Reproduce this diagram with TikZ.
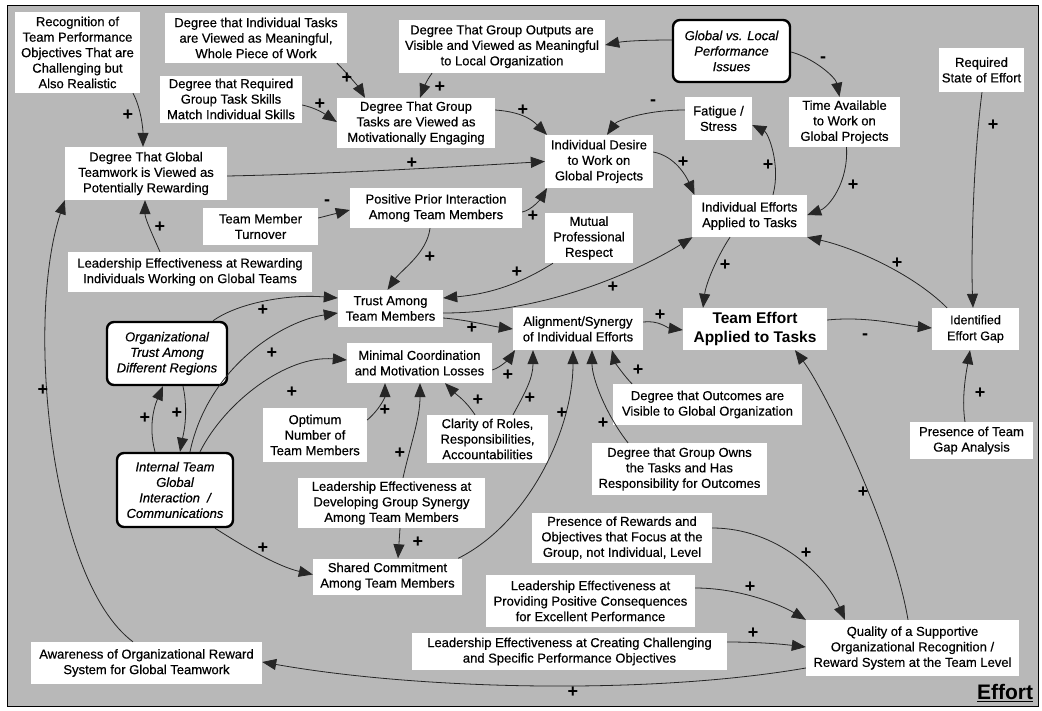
\documentclass[tikz,border=0pt]{standalone}
\usepackage{fontspec}
\setmainfont{Liberation Sans}
\newfontfamily\heavy{Liberation Sans}[FakeBold=0.45]
\usetikzlibrary{arrows.meta,calc}
\definecolor{paper}{RGB}{184,184,184}
\begin{document}
\begin{tikzpicture}[x=1pt,y=-1pt,
  box/.style={fill=white, align=center, inner sep=0pt, font=\heavy\fontsize{13}{15.5}\selectfont},
  keybox/.style={box, draw=black, line width=2.4pt, rounded corners=7pt, font=\heavy\itshape\fontsize{13}{15.5}\selectfont},
  arr/.style={draw=black!85, line width=0.8pt, -{Triangle[length=14pt,width=11pt]}},
  pl/.style={font=\bfseries\fontsize{18}{18}\selectfont, inner sep=0pt},
  ]
\useasboundingbox (0,0) rectangle (1042,710);
\fill[white] (0,0) rectangle (1042,710);
\filldraw[fill=paper, draw=black, line width=1pt] (7,5) rectangle (1038,706);

% ---- variables ----
\node[box, minimum width=125pt, minimum height=81pt] (rec) at (77.5,52.5) {Recognition of\\Team Performance\\Objectives That are\\Challenging but\\Also Realistic};
\node[box, minimum width=182pt, minimum height=50pt] (itask) at (256,38) {Degree that Individual Tasks\\are Viewed as Meaningful,\\Whole Piece of Work};
\node[box, minimum width=142pt, minimum height=47pt] (rskill) at (231,99) {Degree that Required\\Group Task Skills\\Match Individual Skills};
\node[box, minimum width=162pt, minimum height=53pt] (gtw) at (146,173.5) {Degree That Global\\Teamwork is Viewed as\\Potentially Rewarding};
\node[box, minimum width=206pt, minimum height=53pt] (gout) at (502,46.5) {Degree That Group Outputs are\\Visible and Viewed as Meaningful\\to Local Organization};
\node[keybox, minimum width=117pt, minimum height=62pt] (glv) at (731.5,51) {Global vs. Local\\Performance\\Issues};
\node[box, minimum width=158pt, minimum height=50pt] (gtask) at (416,123) {Degree That Group\\Tasks are Viewed as\\Motivationally Engaging};
\node[box, minimum width=67pt, minimum height=43pt] (fatigue) at (718.5,118.5) {Fatigue /\\Stress};
\node[box, minimum width=111pt, minimum height=50pt] (time) at (844.5,122) {Time Available\\to Work on\\Global Projects};
\node[box, minimum width=85pt, minimum height=44pt] (rstate) at (981.5,70) {Required\\State of Effort};
\node[box, minimum width=108pt, minimum height=53pt] (desire) at (599,161.5) {Individual Desire\\to Work on\\Global Projects};
\node[box, minimum width=172pt, minimum height=40pt] (prior) at (436,208) {Positive Prior Interaction\\Among Team Members};
\node[box, minimum width=115pt, minimum height=37pt] (turnover) at (260.5,226.5) {Team Member\\Turnover};
\node[box, minimum width=88pt, minimum height=50pt] (mutual) at (589,238) {Mutual\\Professional\\Respect};
\node[box, minimum width=115pt, minimum height=42pt] (ieff) at (749.5,216) {Individual Efforts\\Applied to Tasks};
\node[box, minimum width=244pt, minimum height=40pt] (lrew) at (190,272) {Leadership Effectiveness at Rewarding\\Individuals Working on Global Teams};
\node[box, minimum width=105pt, minimum height=37pt] (trust) at (390.5,308.5) {Trust Among\\Team Members};
\node[box, minimum width=130pt, minimum height=42pt] (align) at (578,329) {Alignment/Synergy\\of Individual Efforts};
\node[box, minimum width=144pt, minimum height=42pt, font=\bfseries\fontsize{15.5}{19}\selectfont] (teff) at (755,329) {Team Effort\\Applied to Tasks};
\node[box, minimum width=87pt, minimum height=42pt, font=\heavy\fontsize{12.5}{16}\selectfont] (gap) at (975.5,329) {Identified\\Effort Gap};
\node[keybox, minimum width=120pt, minimum height=63pt] (otrust) at (167,353.5) {Organizational\\Trust Among\\Different Regions};
\node[box, minimum width=145pt, minimum height=40pt] (minimal) at (419.5,363) {Minimal Coordination\\and Motivation Losses};
\node[box, minimum width=104pt, minimum height=54pt] (optimum) at (315,435) {Optimum\\Number of\\Team Members};
\node[box, minimum width=121pt, minimum height=48pt] (clarity) at (487.5,439) {Clarity of Roles,\\Responsibilities,\\Accountabilities};
\node[box, minimum width=189pt, minimum height=41pt] (ovis) at (707.5,404.5) {Degree that Outcomes are\\Visible to Global Organization};
\node[box, minimum width=123pt, minimum height=37pt] (gapan) at (971.5,440.5) {Presence of Team\\Gap Analysis};
\node[keybox, minimum width=116pt, minimum height=74pt] (itgc) at (175,490) {Internal Team\\Global\\Interaction~~/\\Communications};
\node[box, minimum width=187pt, minimum height=50pt] (lsyn) at (391.5,503) {Leadership Effectiveness at\\Developing Group Synergy\\Among Team Members};
\node[box, minimum width=175pt, minimum height=52pt] (owns) at (679.5,469) {Degree that Group Owns\\the Tasks and Has\\Responsibility for Outcomes};
\node[box, minimum width=149pt, minimum height=36pt] (shared) at (387.5,576.5) {Shared Commitment\\Among Team Members};
\node[box, minimum width=180pt, minimum height=50pt] (rfocus) at (622,538) {Presence of Rewards and\\Objectives that Focus at the\\Group, not Individual, Level};
\node[box, minimum width=209pt, minimum height=52pt] (lpos) at (590.5,601) {Leadership Effectiveness at\\Providing Positive Consequences\\for Excellent Performance};
\node[box, minimum width=315pt, minimum height=37pt] (lcreate) at (569.5,651.5) {Leadership Effectiveness at Creating Challenging\\and Specific Performance Objectives};
\node[box, minimum width=213pt, minimum height=56pt] (quality) at (912.5,648) {Quality of a Supportive\\Organizational Recognition /\\Reward System at the Team Level};
\node[box, minimum width=231pt, minimum height=42pt] (aware) at (146.5,663) {Awareness of Organizational Reward\\System for Global Teamwork};
\node[font=\bfseries\fontsize{21}{21}\selectfont, inner sep=0pt] (title) at (1005,693) {\underline{Effort}};

% ---- causal links ----
\draw[arr] ($(rec.south)+(55.5,0)$) .. controls +(8,15) and +(0,-18) .. ($(gtw.north)+(-3,0)$);
\draw[arr] ($(itask.south)+(81,0)$) .. controls +(12,12) and +(-6,-10) .. ($(gtask.north)+(-51,0)$);
\draw[arr] ($(rskill.east)+(0,6)$) .. controls +(14,3) and +(-12,-8) .. ($(gtask.west)+(0,-1)$);
\draw[arr] ($(gout.south)+(-70,0)$) .. controls +(-6,8) and +(3,-8) .. ($(gtask.north)+(4,0)$);
\draw[arr] ($(glv.west)+(0,-11)$) .. controls +(-25,0) and +(20,-4) .. ($(gout.east)+(0,-1.5)$);
\draw[arr] ($(glv.east)+(0,1)$) .. controls +(22,6) and +(-4,-20) .. ($(time.north)+(-5,0)$);
\draw[arr] ($(gtask.east)+(0,-13)$) .. controls +(28,2) and +(-14,-14) .. ($(desire.north)+(-52,0)$);
\draw[arr] ($(fatigue.west)+(0,-8.5)$) .. controls +(-40,0) and +(10,-14) .. ($(desire.north)+(8,0)$);
\draw[arr] ($(gtw.east)+(0,2.5)$) .. controls +(100,-2) and +(-100,6) .. (desire.west);
\draw[arr] ($(prior.east)+(0,4)$) .. controls +(10,-2) and +(-6,10) .. ($(desire.south)+(-52,0)$);
\draw[arr] ($(turnover.east)+(0,-8.5)$) -- ($(prior.west)+(0,2)$);
\draw[arr] ($(desire.east)+(0,-9.5)$) .. controls +(22,4) and +(-8,-18) .. ($(ieff.north)+(-55,0)$);
\draw[arr] ($(time.south)+(2,0)$) .. controls +(2,35) and +(22,-8) .. ($(ieff.east)+(0,-1)$);
\draw[arr] ($(ieff.north)+(23.5,0)$) .. controls +(8,-30) and +(16,8) .. ($(fatigue.east)+(0,6.5)$);
\draw[arr] ($(lrew.north)+(-30,0)$) .. controls +(-8,-18) and +(0,18) .. ($(gtw.south)+(-1,0)$);
\draw[arr] ($(aware.north)+(-13.5,0)$) .. controls (50,580) and (25,320) .. (gtw.south west);
\draw[arr] ($(prior.south)+(-6,0)$) .. controls +(-3,25) and +(14,-20) .. ($(trust.north)+(-3,0)$);
\draw[arr] ($(mutual.south)+(-36,0)$) .. controls +(-35,22) and +(45,-4) .. ($(trust.east)+(0,-10.5)$);
\draw[arr] ($(trust.east)+(0,4.5)$) .. controls +(110,0) and +(-45,28) .. ($(ieff.south)+(-57,0)$);
\draw[arr] ($(trust.east)+(0,9.5)$) .. controls +(25,2) and +(-22,-3) .. (align.west);
\draw[arr] ($(align.east)+(0,-7)$) .. controls +(15,-2) and +(-15,-2) .. ($(teff.west)+(0,1)$);
\draw[arr] ($(ieff.south)+(-19.5,0)$) .. controls +(-12,18) and +(3,-25) .. ($(teff.north)+(-52,0)$);
\draw[arr] ($(teff.east)+(0,-9)$) .. controls +(40,-4) and +(-30,-3) .. ($(gap.west)+(0,-1)$);
\draw[arr] ($(gap.north)+(-28.5,0)$) .. controls +(-35,-35) and +(45,10) .. (ieff.south east);
\draw[arr] ($(rstate.south)+(0.5,0)$) .. controls +(-9,70) and +(-2,-50) .. ($(gap.north)+(-2.5,0)$);
\draw[arr] ($(gapan.north)+(-6.5,0)$) .. controls +(-4,-25) and +(-3,18) .. ($(gap.south)+(-5.5,0)$);
\draw[arr] ($(otrust.north)+(46,0)$) .. controls +(25,-18) and +(-50,-4) .. ($(trust.west)+(0,-10.5)$);
\draw[arr] ($(itgc.north)+(15,0)$) .. controls +(18,-85) and +(-55,8) .. ($(trust.west)+(0,4.5)$);
\draw[arr] ($(itgc.north)+(25,0)$) .. controls +(25,-50) and +(-60,-5) .. ($(minimal.west)+(0,-3)$);
\draw[arr] ($(itgc.north)+(-20,0)$) .. controls +(-8,-30) and +(-6,14) .. ($(otrust.south)+(-4,0)$);
\draw[arr] ($(otrust.south)+(16,0)$) .. controls +(6,28) and +(3,-16) .. ($(itgc.north)+(5,0)$);
\draw[arr] ($(optimum.east)+(0,-15)$) .. controls +(12,-10) and +(0,14) .. ($(minimal.south)+(-34.5,0)$);
\draw[arr] ($(lsyn.north)+(11.5,0)$) .. controls +(8,-35) and +(0,35) .. ($(minimal.south)+(0.5,0)$);
\draw[arr] ($(minimal.east)+(0,7)$) .. controls +(10,-3) and +(-4,6) .. ($(align.south)+(-63,0)$);
\draw[arr] ($(clarity.north)+(-12.5,0)$) .. controls +(-10,-15) and +(12,12) .. ($(minimal.south)+(25.5,0)$);
\draw[arr] ($(clarity.north)+(25.5,0)$) .. controls +(12,-22) and +(0,28) .. ($(align.south)+(-45,0)$);
\draw[arr] ($(shared.north east)+(-4,0)$) .. controls +(70,-35) and +(0,80) .. ($(align.south)+(-5,0)$);
\draw[arr] ($(owns.north)+(-51.5,0)$) .. controls +(-22,-28) and +(0,28) .. ($(align.south)+(14,0)$);
\draw[arr] ($(ovis.north)+(-75.5,0)$) .. controls +(-8,-8) and +(3,12) .. ($(align.south)+(34,0)$);
\draw[arr] ($(lsyn.south)+(8.5,0)$) -- ($(shared.north)+(10.5,0)$);
\draw[arr] ($(itgc.south)+(40,0)$) .. controls +(28,18) and +(-35,-8) .. ($(shared.west)+(0,-2)$);
\draw[arr] ($(rfocus.east)+(0,-10)$) .. controls +(65,0) and +(-20,-45) .. ($(quality.north)+(-67.5,0)$);
\draw[arr] ($(lpos.east)+(0,-13)$) .. controls +(45,0) and +(-25,-15) .. (quality.north west);
\draw[arr] ($(lcreate.east)+(0,-9.5)$) .. controls +(30,0) and +(-25,-3) .. ($(quality.west)+(0,-1)$);
\draw[arr] ($(quality.west)+(0,20)$) .. controls (650,695) and (420,690) .. ($(aware.east)+(0,-1)$);
\draw[arr] ($(quality.north)+(-4.5,0)$) .. controls +(-15,-90) and +(30,40) .. ($(teff.south)+(40,0)$);

% ---- polarity signs ----
\foreach \px/\py [count=\i] in {128/115, 347/78, 320/104, 440/87, 523/110, 412/163, 533/216,
  683/162, 853/185, 768/165, 160/227, 43/390, 430/257, 517/272, 613/287, 472/328, 660/315,
  725/265, 897/263, 993/125, 980/393, 263/310, 272/353, 292/392, 145/418, 177/413, 385/410,
  400/453, 508/375, 478/400, 530/398, 562/413, 603/423, 638/370, 418/542, 263/548, 806/553,
  750/587, 753/633, 573/692, 863/492}
  \node[pl] (plus\i) at (\px,\py) {+};
\foreach \px/\py [count=\i] in {823/60, 653/103, 327/203, 865/337}
  \node[pl] (minus\i) at (\px,\py) {-};
\end{tikzpicture}
\end{document}
